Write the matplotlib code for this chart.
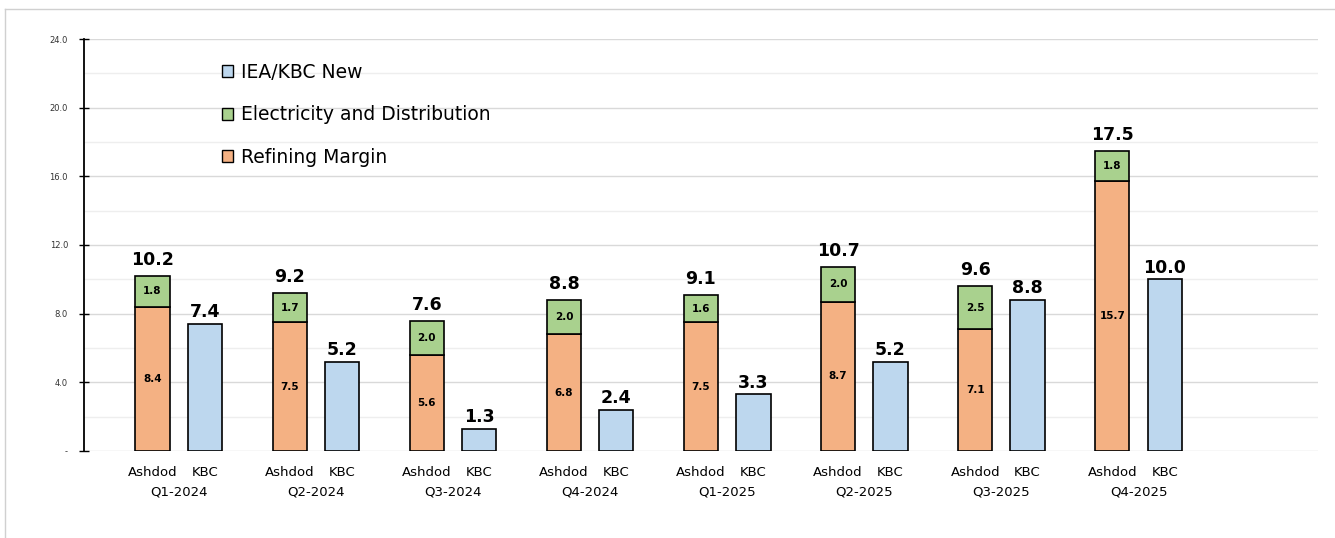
import matplotlib.pyplot as plt
from matplotlib.lines import Line2D
from matplotlib.patches import Patch
import numpy as np

quarters = ["Q1-2024", "Q2-2024", "Q3-2024", "Q4-2024",
            "Q1-2025", "Q2-2025", "Q3-2025", "Q4-2025"]
refining = [8.4, 7.5, 5.6, 6.8, 7.5, 8.7, 7.1, 15.7]
electricity = [1.8, 1.7, 2.0, 2.0, 1.6, 2.0, 2.5, 1.8]
totals = [10.2, 9.2, 7.6, 8.8, 9.1, 10.7, 9.6, 17.5]
kbc = [7.4, 5.2, 1.3, 2.4, 3.3, 5.2, 8.8, 10.0]

c_orange = "#F4B183"
c_green = "#A9D18E"
c_blue = "#BDD7EE"

fig = plt.figure(figsize=(13.35, 5.38), dpi=100)
ax = fig.add_axes([84 / 1335, 87 / 538, 1234 / 1335, 412 / 538])

x = np.arange(len(quarters))
off = 0.382
w = 0.25

ax.bar(x, refining, w, color=c_orange, edgecolor="black", linewidth=1.2, zorder=3)
ax.bar(x, electricity, w, bottom=refining, color=c_green, edgecolor="black", linewidth=1.2, zorder=3)
ax.bar(x + off, kbc, w, color=c_blue, edgecolor="black", linewidth=1.2, zorder=3)

for i in range(len(quarters)):
    ax.text(x[i], refining[i] / 2, f"{refining[i]:.1f}", ha="center", va="center",
            fontsize=7.5, fontweight="bold", zorder=4)
    ax.text(x[i], refining[i] + electricity[i] / 2, f"{electricity[i]:.1f}", ha="center",
            va="center", fontsize=7.5, fontweight="bold", zorder=4)
    ax.annotate(f"{totals[i]:.1f}", (x[i], totals[i]), xytext=(0, 5), textcoords="offset points",
                ha="center", va="bottom", fontsize=12.5, fontweight="bold")
    ax.annotate(f"{kbc[i]:.1f}", (x[i] + off, kbc[i]), xytext=(0, 2), textcoords="offset points",
                ha="center", va="bottom", fontsize=12.5, fontweight="bold")

ax.set_xlim(-0.5, 8.5)
ax.set_ylim(0, 24)

yt = np.arange(0, 25, 4)
ax.set_yticks(yt)
ax.set_yticklabels(["-"] + [f"{v:.1f}" for v in yt[1:]], fontsize=6, color="#333333")
ax.set_yticks(np.arange(2, 24, 4), minor=True)
ax.tick_params(axis="y", which="major", direction="inout", length=7, width=1, pad=8)
ax.tick_params(axis="y", which="minor", length=0)
ax.grid(axis="y", which="major", color="#d9d9d9", linewidth=1, zorder=0)
ax.grid(axis="y", which="minor", color="#eeeeee", linewidth=1, zorder=0)

pos = np.concatenate([x, x + off])
labs = ["Ashdod"] * len(x) + ["KBC"] * len(x)
ax.set_xticks(pos)
ax.set_xticklabels(labs, fontsize=9.5)
ax.set_xticks(x + off / 2, minor=True)
ax.set_xticklabels(quarters, minor=True, fontsize=9.5)
ax.tick_params(axis="x", which="major", length=0, pad=11)
ax.tick_params(axis="x", which="minor", length=0, pad=25)

for s in ["top", "right", "bottom"]:
    ax.spines[s].set_visible(False)
ax.spines["left"].set_linewidth(1.3)
ax.spines["left"].set_zorder(5)

handles = [Patch(facecolor=c_blue, edgecolor="black"),
           Patch(facecolor=c_green, edgecolor="black"),
           Patch(facecolor=c_orange, edgecolor="black")]
names = ["IEA/KBC New", "Electricity and Distribution", "Refining Margin"]
fig.legend(handles, names, loc="upper left", bbox_to_anchor=(222 / 1335, 1 - 63 / 538),
           frameon=False, fontsize=13.5, handlelength=0.6, handleheight=0.6,
           handletextpad=0.4, labelspacing=1.25, borderpad=0, borderaxespad=0)

# outer chart border (partially visible)
fig.add_artist(Line2D([5 / 1335, 1], [1 - 9 / 538, 1 - 9 / 538], color="#d0d0d0", linewidth=1))
fig.add_artist(Line2D([5 / 1335, 5 / 1335], [0, 1 - 9 / 538], color="#d0d0d0", linewidth=1))

fig.savefig("out.png", dpi=100)
